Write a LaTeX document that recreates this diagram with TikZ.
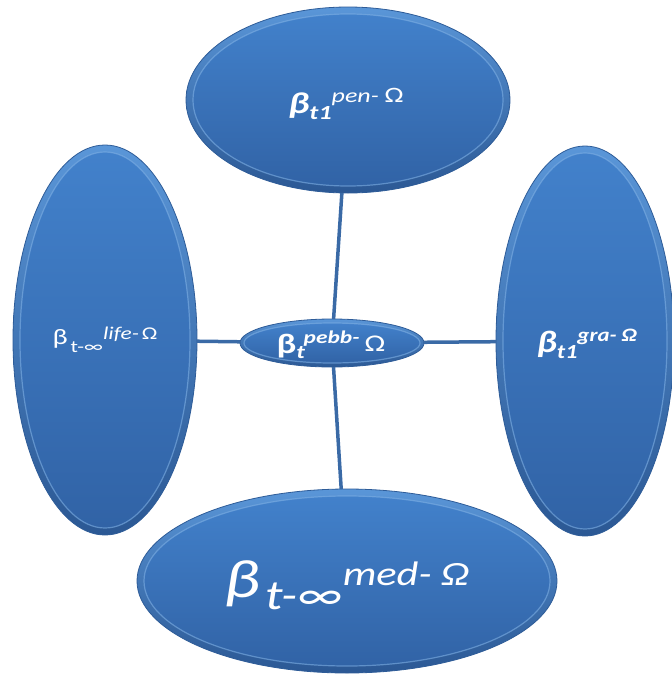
\documentclass[tikz,border=0pt]{standalone}
\usepackage{fontspec}
\setmainfont{Carlito}
\usetikzlibrary{shapes.geometric}
\definecolor{bluetop}{HTML}{5A96D8}
\definecolor{bluebot}{HTML}{2B5894}
\definecolor{innertop}{HTML}{4281CB}
\definecolor{innerbot}{HTML}{3163A6}
\definecolor{rim}{HTML}{7FB0E4}
\definecolor{edgec}{HTML}{2E5C98}
\definecolor{linkc}{HTML}{3A6AA6}
\newcommand{\fs}[1]{\fontsize{#1}{#1}\selectfont}
\newcommand{\bub}[5]{%
  \node[bubout, minimum width={2*#4*1pt}, minimum height={2*#5*1pt}] (#1) at (#2,#3) {};
}
\begin{document}
\begin{tikzpicture}[x=1pt,y=-1pt,
  bubout/.style={ellipse, inner sep=0pt, outer sep=0pt, draw=edgec, line width=0.8pt,
    top color=bluetop, bottom color=bluebot},
  bubin/.style={draw=rim, draw opacity=0.6, line width=1.2pt, top color=innertop, bottom color=innerbot},
  link/.style={draw=linkc, line width=3.5pt},
  lab/.style={text=white, inner sep=0pt}]
\useasboundingbox (0,0) rectangle (672,675);
\clip (0,0) rectangle (672,675);
% bubbles
\bub{top}{348}{100}{162}{93}
\draw[bubin] (top.center) ellipse [x radius=155pt, y radius=86pt];
\bub{left}{105}{340}{92}{195}
\draw[bubin] (left.center) ellipse [x radius=85pt, y radius=188pt];
\bub{right}{585}{341}{89}{195}
\draw[bubin] (right.center) ellipse [x radius=82pt, y radius=188pt];
\bub{bottom}{347}{581}{210}{92}
\draw[bubin] (bottom.center) ellipse [x radius=203pt, y radius=85pt];
\bub{hub}{332}{343}{92}{24}
\draw[bubin] (hub.center) ellipse [x radius=88pt, y radius=20pt];
% connectors
\draw[link] (top) -- (hub);
\draw[link] (hub) -- (bottom);
\draw[link] (hub) -- (left);
\draw[link] (hub) -- (right);
% labels
\node[lab] (toplab) at (346,104) {\scalebox{1.3}[1]{{\fs{30}\bfseries\itshape β}\raisebox{-6pt}{\fs{20}\bfseries\itshape t1}\raisebox{11pt}{\fs{20}\itshape pen- }\raisebox{11pt}{\fs{22}Ω}}};
\node[lab] (hublab) at (331,345) {\scalebox{1.3}[1]{{\fs{28}\bfseries β}\raisebox{-5pt}{\fs{19}\bfseries\itshape t}\kern-1pt\raisebox{10pt}{\fs{18}\bfseries\itshape pebb- }\raisebox{2pt}{\fs{24}Ω}}};
\node[lab] (rightlab) at (587,344) {\scalebox{1.2}[1]{{\fs{31}\bfseries\itshape β}\raisebox{-6pt}{\fs{20}\bfseries\itshape t1}\raisebox{11pt}{\fs{19}\bfseries\itshape gra- Ω}}};
\node[lab] (leftlab) at (105,340) {\scalebox{1.3}[1]{{\fs{22}β}\ \raisebox{-8pt}{\fs{17}t-∞}\raisebox{5pt}{\fs{18}\itshape life-} \raisebox{5pt}{\fs{18}Ω}}};
\node[lab] (bottomlab) at (347,585) {\scalebox{1.25}[1]{{\fs{54}\itshape β}\ \ \raisebox{-12pt}{\fs{42}\itshape t-∞}\raisebox{12pt}{\fs{34}\itshape med- Ω}}};
\end{tikzpicture}
\end{document}
